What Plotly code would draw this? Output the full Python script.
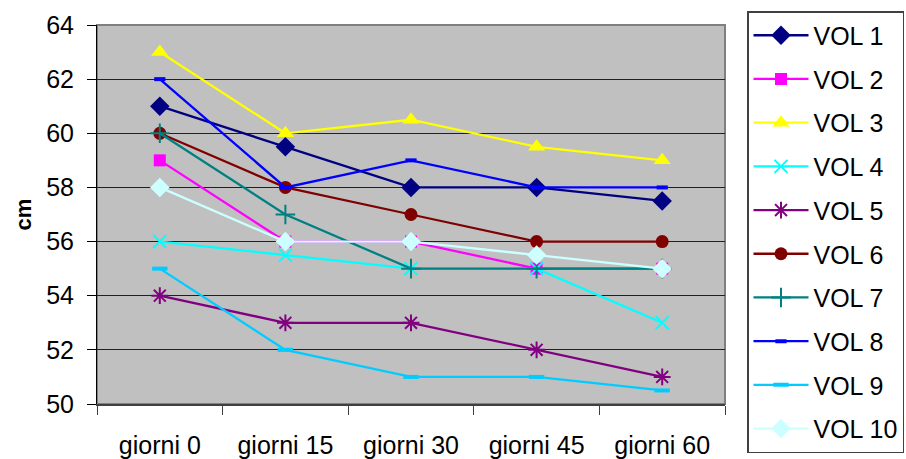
import plotly.graph_objects as go

# Categories and measurements (cm) for each volunteer
giorni = ["giorni 0", "giorni 15", "giorni 30", "giorni 45", "giorni 60"]

vol1 = [61, 59.5, 58, 58, 57.5]
vol2 = [59, 56, 56, 55, 55]
vol3 = [63, 60, 60.5, 59.5, 59]
vol4 = [56, 55.5, 55, 55, 53]
vol5 = [54, 53, 53, 52, 51]
vol6 = [60, 58, 57, 56, 56]
vol7 = [60, 57, 55, 55, 55]
vol8 = [62, 58, 59, 58, 58]
vol9 = [55, 52, 51, 51, 50.5]
vol10 = [58, 56, 56, 55.5, 55]

names = ["VOL 1", "VOL 2", "VOL 3", "VOL 4", "VOL 5",
         "VOL 6", "VOL 7", "VOL 8", "VOL 9", "VOL 10"]
series = [vol1, vol2, vol3, vol4, vol5, vol6, vol7, vol8, vol9, vol10]

# (line colour, marker symbol, marker size, marker outline width)
styles = [
    ("#000080", "diamond", 15, 0),
    ("#FF00FF", "square", 12, 0),
    ("#FFFF00", "triangle-up", 15, 0),
    ("#00FFFF", "x-thin", 13, 2),
    ("#800080", "asterisk", 14, 2),
    ("#800000", "circle", 13, 0),
    ("#008080", "cross-thin", 14, 2),
    ("#0000FF", "line-ew", 8, 4),
    ("#00CCFF", "line-ew", 11, 4),
    ("#CCFFFF", "diamond", 15, 0),
]

FONT = "Liberation Sans, Arial, sans-serif"

fig = go.Figure()
for i, (name, vals, (col, sym, size, lw)) in enumerate(zip(names, series, styles)):
    fig.add_trace(go.Scatter(
        x=giorni, y=vals, name=name, mode="lines+markers",
        legendgroup=f"g{i}",
        line=dict(color=col, width=2.3),
        marker=dict(symbol=sym, size=size, color=col,
                    line=dict(color=col, width=lw)),
    ))

# plot-area frame (top and right edges in grey)
fig.add_shape(type="rect", xref="paper", yref="paper", x0=0, y0=0, x1=1, y1=1,
              line=dict(color="#808080", width=2), layer="below")

fig.update_layout(
    width=906, height=459,
    margin=dict(l=97, r=181, t=25, b=55),
    paper_bgcolor="white",
    plot_bgcolor="#C0C0C0",
    font=dict(family=FONT, size=25, color="black"),
    showlegend=True,
    legend=dict(
        x=747 / 906, xanchor="left",
        y=1 - 11 / 459, yanchor="top",
        xref="container", yref="container",
        bgcolor="white", bordercolor="#404040", borderwidth=1.5,
        font=dict(family=FONT, size=25, color="black"),
        itemwidth=55,
        tracegroupgap=8.2,
        traceorder="grouped",
        maxheight=1,
    ),
    xaxis=dict(
        type="category",
        tickson="boundaries",
        ticks="outside", ticklen=9, tickcolor="#404040", tickwidth=1,
        showline=True, linecolor="#404040", linewidth=2,
        showgrid=False, zeroline=False,
        tickfont=dict(family=FONT, size=25),
        ticklabelstandoff=18,
        automargin=False,
        range=[-0.5, 4.5],
    ),
    yaxis=dict(
        range=[50, 64], dtick=2,
        ticks="outside", ticklen=9, tickcolor="black", tickwidth=1,
        showline=True, linecolor="black", linewidth=1,
        showgrid=True, gridcolor="#202020", gridwidth=1,
        zeroline=False,
        tickfont=dict(family=FONT, size=25),
        ticklabelstandoff=8,
        automargin=False,
        title=dict(text="<b>cm</b>", font=dict(family=FONT, size=22), standoff=8),
    ),
)

fig.write_html("out.html")
